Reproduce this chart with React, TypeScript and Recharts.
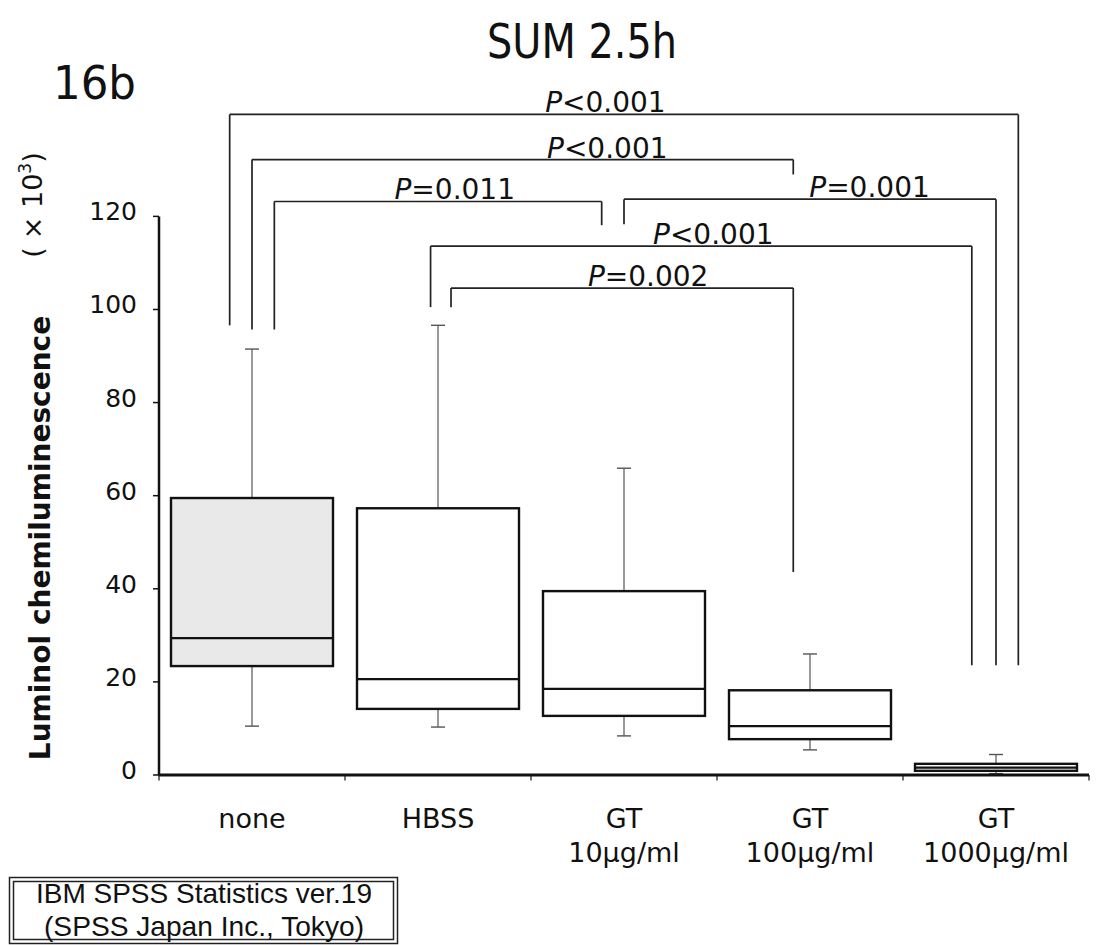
import React from "react";
import { ComposedChart, Bar, XAxis, YAxis, ReferenceLine, ReferenceDot } from "recharts";

const groups = ["none", "HBSS", "GT\n10μg/ml", "GT\n100μg/ml", "GT\n1000μg/ml"];
const whiskerHigh = [91.5, 96.6, 65.9, 26.0, 4.4];
const q3 = [59.5, 57.3, 39.5, 18.2, 2.4];
const median = [29.4, 20.6, 18.5, 10.5, 1.6];
const q1 = [23.4, 14.2, 12.7, 7.7, 0.9];
const whiskerLow = [10.5, 10.3, 8.4, 5.4, 0.3];
const yTicks = [0, 20, 40, 60, 80, 100, 120];

// significance brackets: group pairs, label, bracket height, where each leg stops
const bracketFrom = [0, 0, 0, 2, 1, 1];
const bracketTo = [4, 3, 2, 4, 4, 3];
const bracketLabel = ["P<0.001", "P<0.001", "P=0.011", "P=0.001", "P<0.001", "P=0.002"];
const bracketLevel = [141.9, 132.2, 123.2, 123.7, 113.6, 104.6];
const legEndFrom = [96.6, 95.7, 95.7, 118.3, 100.5, 100.5];
const legEndTo = [23.6, 129.0, 118.1, 23.6, 23.6, 43.6];

// layout only (band units on the hidden numeric axis)
const LEG_SHIFT_FROM = [-0.12, 0, 0.12, 0, -0.04, 0.07];
const LEG_SHIFT_TO = [0.12, -0.09, -0.12, 0, -0.13, -0.09];
const LABEL_X = [2.4, 2.41, 1.59, 3.82, 2.98, 2.63];
const BOX_FILL = ["#e9e9e9", "#fff", "#fff", "#fff", "#fff"];

const FONT = "'DejaVu Sans', sans-serif";
const INK = "#111";

const data = groups.map((name, i) => ({
  name,
  slot: i + 0.5,
  high: whiskerHigh[i],
  q3: q3[i],
  med: median[i],
  q1: q1[i],
  low: whiskerLow[i],
}));

function BoxShape(props: any) {
  const { x, y, width, height, payload, index } = props;
  if (!payload) return null;
  const base = y + height;
  const k = height / payload.high;
  const py = (v: number) => base - v * k;
  const cx = x + width / 2;
  const cap = 7;
  return (
    <g>
      <line x1={cx} x2={cx} y1={py(payload.high)} y2={py(payload.q3)} stroke="#555" strokeWidth={1.2} />
      <line x1={cx} x2={cx} y1={py(payload.q1)} y2={py(payload.low)} stroke="#555" strokeWidth={1.2} />
      <line x1={cx - cap} x2={cx + cap} y1={py(payload.high)} y2={py(payload.high)} stroke="#555" strokeWidth={1.4} />
      <line x1={cx - cap} x2={cx + cap} y1={py(payload.low)} y2={py(payload.low)} stroke="#555" strokeWidth={1.4} />
      <rect
        x={x}
        y={py(payload.q3)}
        width={width}
        height={py(payload.q1) - py(payload.q3)}
        fill={BOX_FILL[index] ?? "#fff"}
        stroke={INK}
        strokeWidth={2.4}
      />
      <line x1={x} x2={x + width} y1={py(payload.med)} y2={py(payload.med)} stroke={INK} strokeWidth={2.2} />
    </g>
  );
}

function XTick({ x, y, payload }: any) {
  const lines = String(payload.value).split("\n");
  return (
    <text x={x} y={y + 53} textAnchor="middle" fontFamily={FONT} fontSize={27} fill={INK}>
      {lines.map((l, i) => (
        <tspan key={i} x={x} dy={i === 0 ? 0 : 34}>
          {l}
        </tspan>
      ))}
    </text>
  );
}

function YTick({ x, y, payload }: any) {
  return (
    <text x={x} y={y + 4} textAnchor="end" fontFamily={FONT} fontSize={25} fill={INK}>
      {payload.value}
    </text>
  );
}

function pLabel(text: string) {
  return (props: any) => (
    <text x={props.cx} y={props.cy - 2} textAnchor="middle" fontFamily={FONT} fontSize={28} fill={INK}>
      <tspan fontStyle="italic">{text.slice(0, 1)}</tspan>
      {text.slice(1)}
    </text>
  );
}

export default function App() {
  const legX = (g: number, s: number) => g + 0.5 + s;
  return (
    <div style={{ position: "absolute", left: 0, top: 0, width: 1101, height: 945, background: "#fff", overflow: "hidden" }}>
      <ComposedChart width={1101} height={945} data={data} margin={{ top: 100, right: 12, bottom: 110, left: 99 }}>
        <XAxis
          xAxisId="cat"
          dataKey="name"
          axisLine={{ stroke: INK, strokeWidth: 3 }}
          tickLine={false}
          tickSize={0}
          tickMargin={0}
          height={60}
          interval={0}
          tick={<XTick />}
        />
        <XAxis xAxisId="num" dataKey="slot" type="number" domain={[0, 5]} allowDataOverflow hide />
        <YAxis
          domain={[0, 145]}
          ticks={yTicks}
          allowDataOverflow
          axisLine={false}
          tickLine={{ stroke: INK, strokeWidth: 1.5 }}
          tickSize={6}
          tickMargin={16}
          width={60}
          tick={<YTick />}
        />
        <Bar xAxisId="cat" dataKey="high" barSize={162} shape={<BoxShape />} isAnimationActive={false} />

        <ReferenceLine
          xAxisId="num"
          segment={[{ x: 0, y: 0 }, { x: 0, y: 120 }]}
          stroke={INK}
          strokeWidth={2.5}
          ifOverflow="visible"
        />
        {[0, 1, 2, 3, 4, 5].map((t) => (
          <ReferenceLine
            key={`t${t}`}
            xAxisId="num"
            segment={[{ x: t, y: 0 }, { x: t, y: -1.2 }]}
            stroke={INK}
            strokeWidth={1.2}
            ifOverflow="visible"
          />
        ))}

        {bracketLabel.map((_, i) => {
          const xa = legX(bracketFrom[i], LEG_SHIFT_FROM[i]);
          const xb = legX(bracketTo[i], LEG_SHIFT_TO[i]);
          const lv = bracketLevel[i];
          return [
            <ReferenceLine
              key={`h${i}`}
              xAxisId="num"
              segment={[{ x: xa, y: lv }, { x: xb, y: lv }]}
              stroke="#222"
              strokeWidth={1.7}
              ifOverflow="visible"
            />,
            <ReferenceLine
              key={`a${i}`}
              xAxisId="num"
              segment={[{ x: xa, y: lv }, { x: xa, y: legEndFrom[i] }]}
              stroke="#222"
              strokeWidth={1.7}
              ifOverflow="visible"
            />,
            <ReferenceLine
              key={`b${i}`}
              xAxisId="num"
              segment={[{ x: xb, y: lv }, { x: xb, y: legEndTo[i] }]}
              stroke="#222"
              strokeWidth={1.7}
              ifOverflow="visible"
            />,
          ];
        })}
        {bracketLabel.map((label, i) => (
          <ReferenceDot
            key={`l${i}`}
            xAxisId="num"
            x={LABEL_X[i]}
            y={bracketLevel[i]}
            r={0}
            ifOverflow="visible"
            shape={pLabel(label)}
          />
        ))}
      </ComposedChart>

      <svg width={1101} height={945} style={{ position: "absolute", left: 0, top: 0, pointerEvents: "none" }}>
        <text x={582} y={58} textAnchor="middle" fontFamily={FONT} fontSize={48} fill={INK} textLength={190} lengthAdjust="spacingAndGlyphs">
          SUM 2.5h
        </text>
        <text x={53} y={99} fontFamily={FONT} fontSize={46} fill={INK} textLength={83} lengthAdjust="spacingAndGlyphs">
          16b
        </text>
        <text transform="rotate(-90)" x={-538} y={50} textAnchor="middle" fontFamily={FONT} fontWeight="bold" fontSize={28} fill={INK}>
          Luminol chemiluminescence
        </text>
        <text transform="rotate(-90)" x={-205} y={42} textAnchor="middle" fontFamily={FONT} fontSize={27} fill={INK}>
          (<tspan dx={8}>× 10</tspan>
          <tspan fontSize={17} dy={-11}>3</tspan>
          <tspan dy={11}>)</tspan>
        </text>
        <rect x={9.5} y={877.5} width={388} height={66} fill="#fff" stroke="#222" strokeWidth={1.5} />
        <rect x={13.5} y={881.5} width={380} height={58} fill="none" stroke="#222" strokeWidth={1.5} />
        <text x={204} y={903} textAnchor="middle" fontFamily="'Liberation Sans', Arial, sans-serif" fontSize={28} fill={INK} textLength={336} lengthAdjust="spacingAndGlyphs">
          IBM SPSS Statistics ver.19
        </text>
        <text x={204} y={936} textAnchor="middle" fontFamily="'Liberation Sans', Arial, sans-serif" fontSize={28} fill={INK} textLength={320} lengthAdjust="spacingAndGlyphs">
          (SPSS Japan Inc., Tokyo)
        </text>
      </svg>
    </div>
  );
}
